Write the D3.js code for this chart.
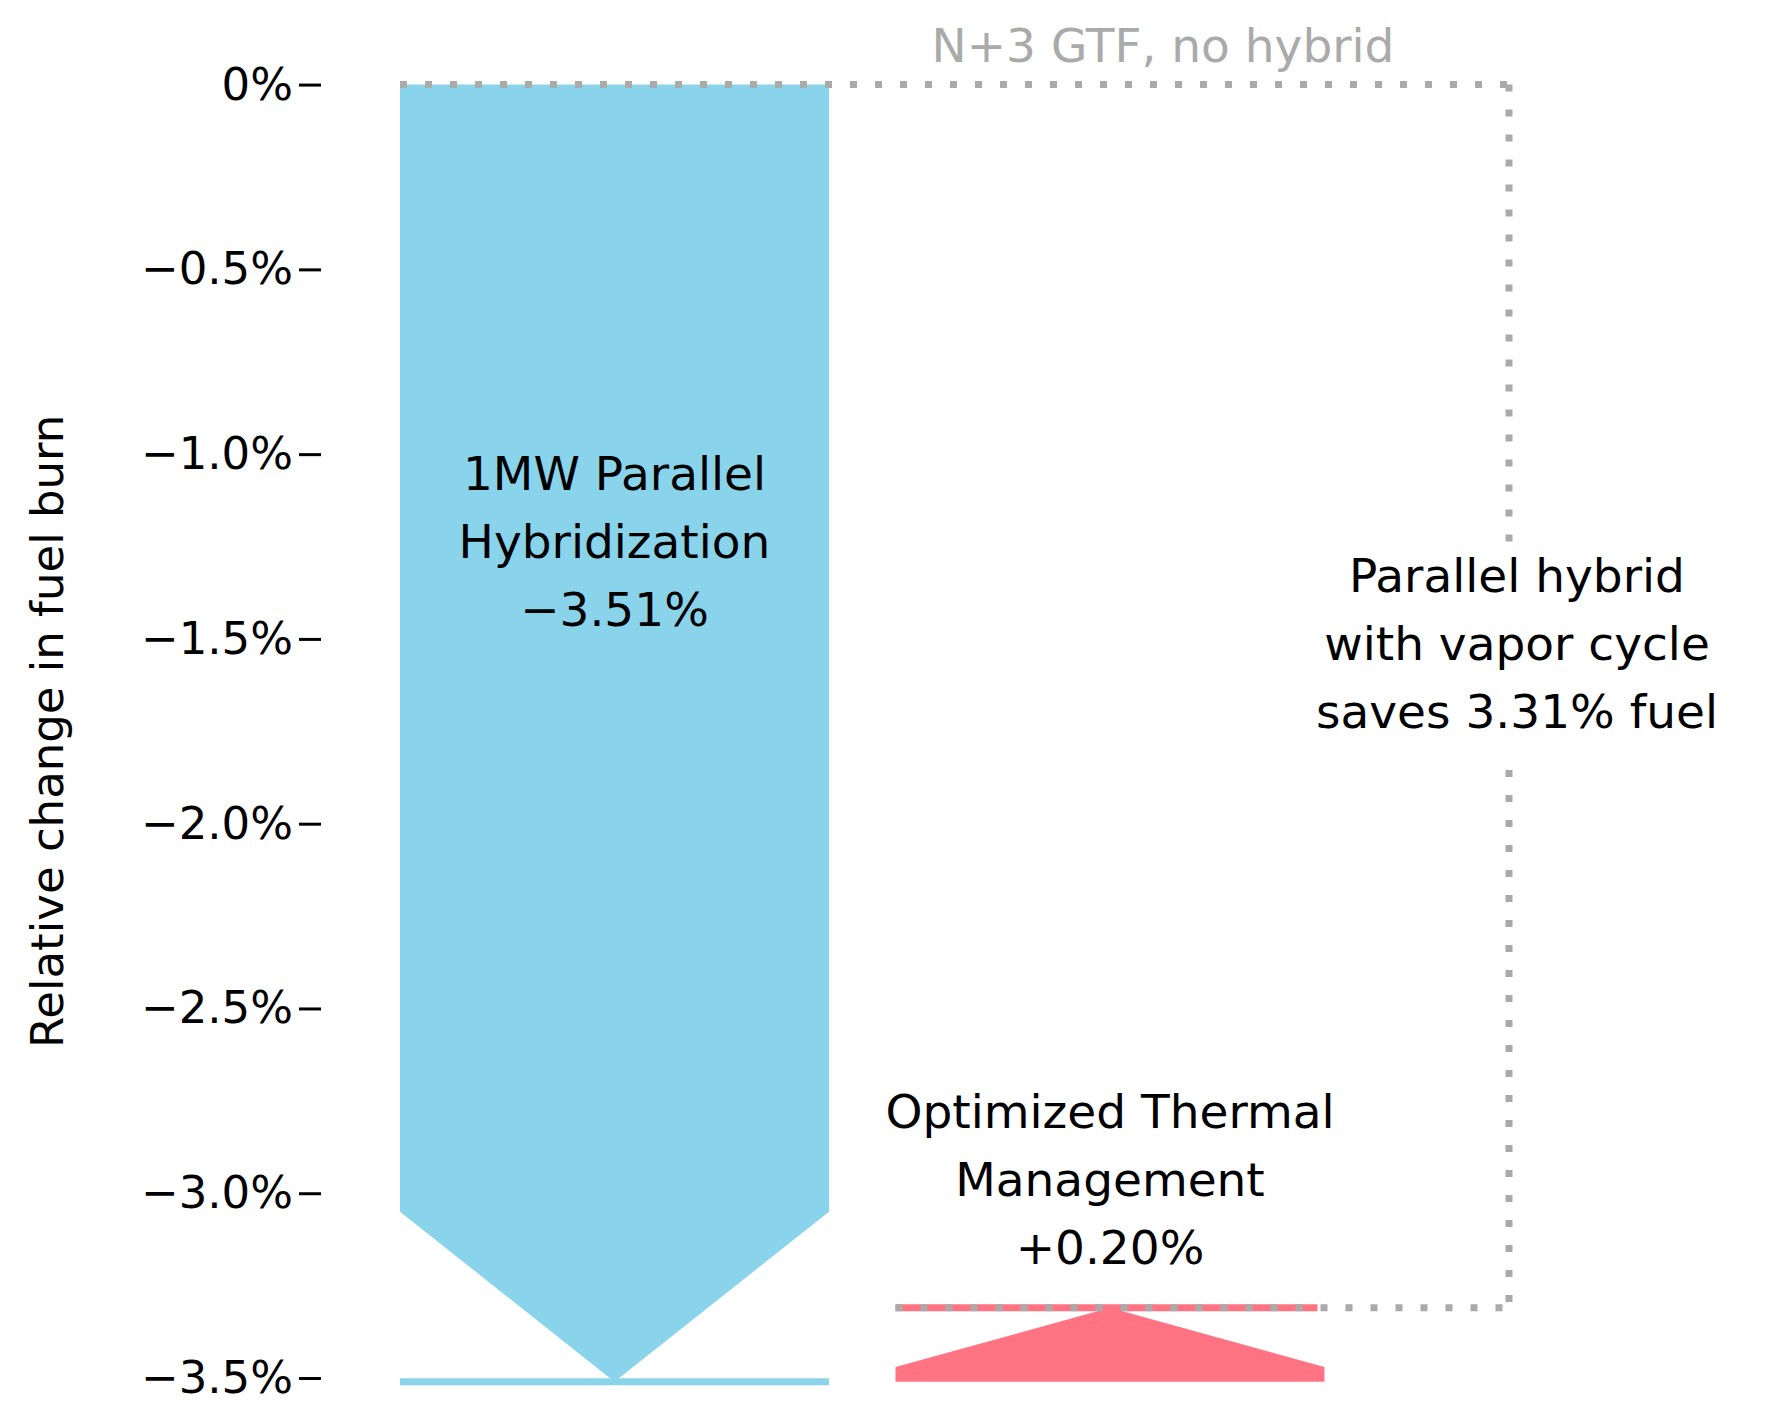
<!DOCTYPE html>
<html><head><meta charset="utf-8">
<script src="https://cdn.jsdelivr.net/npm/d3@7"></script>
<style>body{margin:0;background:#fff}text{font-family:"DejaVu Sans",sans-serif}</style>
</head><body><svg id="c" width="1768" height="1423"></svg>
<script>
const categories = ["1MW Parallel Hybridization", "Optimized Thermal Management"];
const deltas = [-3.51, 0.20];
const labels = [["1MW Parallel","Hybridization","\u22123.51%"],["Optimized Thermal","Management","+0.20%"]];
const colors = ["#89d3eb","#ff7383"];
const yTicks = [0,-0.5,-1.0,-1.5,-2.0,-2.5,-3.0,-3.5];
const yTickLabels = ["0%","\u22120.5%","\u22121.0%","\u22121.5%","\u22122.0%","\u22122.5%","\u22123.0%","\u22123.5%"];
const baselineLabel = "N+3 GTF, no hybrid";
const summary = ["Parallel hybrid","with vapor cycle","saves 3.31% fuel"];

const svg = d3.select("#c");
const y = d3.scaleLinear().domain([0,-3.5]).range([84.6,1378]);
const x = d3.scaleLinear().domain([0,1]).range([400,829]); // bar 0 spans [0,1]
const barStep = 1.155, barW = 1;

// axis
const ax = svg.append("g").attr("transform","translate(321,0)")
  .call(d3.axisLeft(y).tickValues(yTicks).tickFormat((d,i)=>yTickLabels[i]).tickSize(22).tickPadding(6));
ax.select(".domain").remove();
ax.selectAll(".tick line").attr("stroke","#000").attr("stroke-width",3);
ax.selectAll(".tick text").attr("font-size",45).attr("font-family","DejaVu Sans").attr("fill","#000");
svg.append("text").attr("transform",`translate(63,${y(-1.75)}) rotate(-90)`).attr("text-anchor","middle")
  .attr("font-size",45).text("Relative change in fuel burn");

// waterfall
let cum = 0;
const ends = [];
deltas.forEach((d,i)=>{
  const start = cum, end = cum + d; cum = end;
  const x0 = x(i*barStep), x1 = x(i*barStep+barW), xm = (x0+x1)/2;
  const head = 0.46;
  let pts;
  if (d<0) {
    pts = [[x0,y(start)],[x1,y(start)],[x1,y(end+head)],[xm,y(end)],[x0,y(end+head)]];
    svg.append("line").attr("x1",x0).attr("x2",x1).attr("y1",y(end)).attr("y2",y(end))
      .attr("stroke",colors[i]).attr("stroke-width",7);
  } else {
    pts = [[x0,y(start)],[x1,y(start)],[x1,y(start+0.04)],[xm,y(end)],[x0,y(start+0.04)]];
    svg.append("line").attr("x1",x0).attr("x2",x1-7).attr("y1",y(end)).attr("y2",y(end))
      .attr("stroke",colors[i]).attr("stroke-width",7);
  }
  svg.append("polygon").attr("points",pts.map(p=>p.join(",")).join(" ")).attr("fill",colors[i]);
  ends.push({x0,x1,xm,start,end});
});

// label text
const lab = [{x:ends[0].xm, y0:490},{x:ends[1].xm, y0:1128}];
labels.forEach((ls,i)=>{
  ls.forEach((t,j)=>svg.append("text").attr("x",lab[i].x).attr("y",lab[i].y0+j*68)
    .attr("text-anchor","middle").attr("font-size",47).text(t));
});

// dotted reference
const xr = 1509;
const dot = {stroke:"#aaaaaa","stroke-width":7,"stroke-dasharray":"7,18"};
function dl(x1,y1,x2,y2){const l=svg.append("line").attr("x1",x1).attr("y1",y1).attr("x2",x2).attr("y2",y2);
  Object.entries(dot).forEach(([k,v])=>l.attr(k,v));}
dl(ends[0].x0, y(0), xr, y(0));
dl(xr, y(0), xr, 555);
dl(xr, 770, xr, y(cum));
dl(ends[1].x0, y(cum), xr, y(cum));
svg.append("text").attr("x",1163).attr("y",62).attr("text-anchor","middle").attr("font-size",47)
  .attr("fill","#aaaaaa").text(baselineLabel);
summary.forEach((t,j)=>svg.append("text").attr("x",1517).attr("y",592+j*68)
  .attr("text-anchor","middle").attr("font-size",47).text(t));
</script></body></html>
